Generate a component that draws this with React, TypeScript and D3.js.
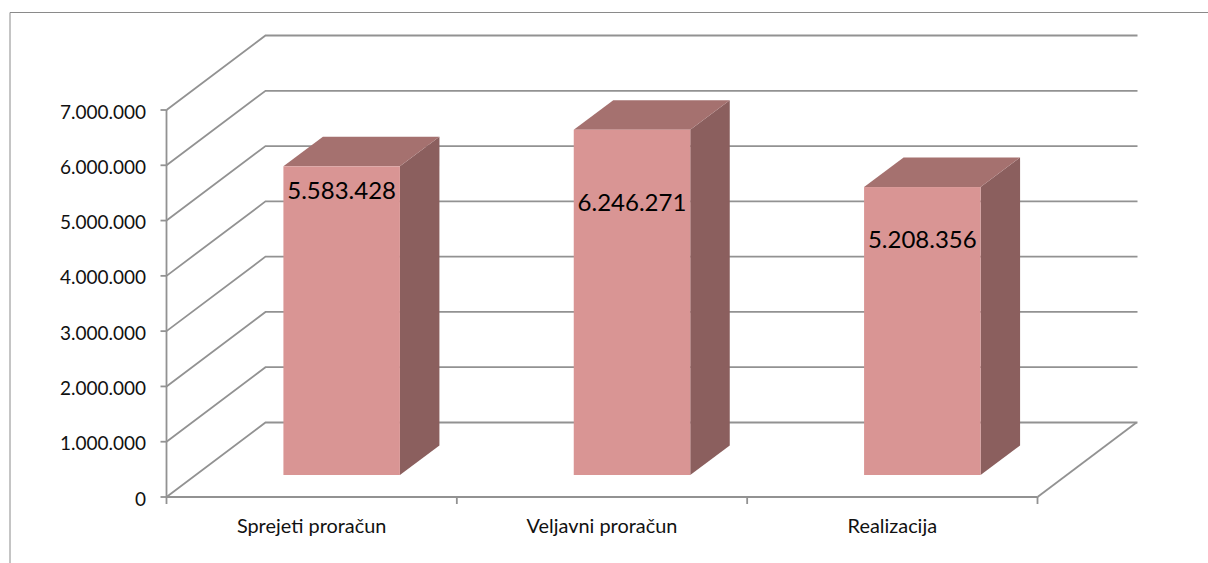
import React from "react";
import * as d3 from "d3";

const categories = ["Sprejeti proračun", "Veljavni proračun", "Realizacija"];
const values = [5583428, 6246271, 5208356];
const valueLabels = ["5.583.428", "6.246.271", "5.208.356"];
const yTicks = [0, 1000000, 2000000, 3000000, 4000000, 5000000, 6000000, 7000000];
const labelOffsets = [33, 81, 61];

const WIDTH = 1208;
const HEIGHT = 563;
const FONT = "Lato, 'Open Sans', sans-serif";
const GRID = "#929292";
const depthX = 99;
const depthY = 74.5;
const barDepthX = 39.5;
const barDepthY = 29.5;
const barWidth = 116.5;
const barShiftX = 30;
const barShiftY = 22;

const y = d3.scaleLinear().domain([0, 7000000]).range([497, 110]);
const x = d3.scaleBand<string>().domain(categories).range([166.5, 1037.5]);
const fmt = (v: number) => d3.format(",")(v).replace(/,/g, ".");
const poly = (pts: [number, number][]) => (d3.line()(pts) as string) + "Z";

export default function App() {
  const x0 = 166.5;
  const x1 = 1037.5;
  const bottom = y(0);
  return (
    <svg
      width={WIDTH}
      height={HEIGHT}
      style={{ position: "absolute", left: 0, top: 0, background: "#fff" }}
    >
      <path d={`M1208,12.5H10V563`} fill="none" stroke="#8a8a8a" strokeWidth={1} />
      {yTicks.map((t) => (
        <g key={t}>
          <polyline
            points={`${x0},${y(t)} ${x0 + depthX},${y(t) - depthY} ${x1 + depthX + 1},${y(t) - depthY}`}
            fill="none"
            stroke={GRID}
            strokeWidth={1.8}
          />
          <line x1={x0 - 6} x2={x0} y1={y(t)} y2={y(t)} stroke={GRID} strokeWidth={1.8} />
          <text
            x={146}
            y={y(t) + 8.5}
            textAnchor="end"
            fontFamily={FONT}
            fontSize={19}
            fill="#111"
          >
            {fmt(t)}
          </text>
        </g>
      ))}
      <line x1={x0} x2={x0} y1={y(7000000)} y2={bottom + 7} stroke={GRID} strokeWidth={1.8} />
      <line x1={x0} x2={x1} y1={bottom} y2={bottom} stroke={GRID} strokeWidth={1.8} />
      <polyline
        points={`${x1},${bottom} ${x1 + depthX},${bottom - depthY}`}
        fill="none"
        stroke={GRID}
        strokeWidth={1.8}
      />
      {categories.map((c) => {
        const band = x(c) as number;
        const tickX = band + x.bandwidth();
        return (
          <g key={c}>
            <line x1={tickX} x2={tickX} y1={bottom} y2={bottom + 7} stroke={GRID} strokeWidth={1.8} />
            <text
              x={band + x.bandwidth() / 2}
              y={533}
              textAnchor="middle"
              fontFamily={FONT}
              fontSize={19.9}
              fill="#111"
            >
              {c}
            </text>
          </g>
        );
      })}
      {categories.map((c, i) => {
        const left = (x(c) as number) + x.bandwidth() / 2 + barShiftX - barWidth / 2;
        const right = left + barWidth;
        const base = bottom - barShiftY;
        const top = y(values[i]) - barShiftY;
        return (
          <g key={c}>
            <path
              d={poly([
                [right, top],
                [right + barDepthX, top - barDepthY],
                [right + barDepthX, base - barDepthY],
                [right, base],
              ])}
              fill="#8b5f5e"
            />
            <path
              d={poly([
                [left, top],
                [left + barDepthX, top - barDepthY],
                [right + barDepthX, top - barDepthY],
                [right, top],
              ])}
              fill="#a5716f"
            />
            <rect x={left} y={top} width={barWidth} height={base - top} fill="#d99594" />
            <text
              x={left + barWidth / 2}
              y={top + labelOffsets[i]}
              textAnchor="middle"
              fontFamily={FONT}
              fontSize={24}
              fill="#000"
            >
              {valueLabels[i]}
            </text>
          </g>
        );
      })}
    </svg>
  );
}
